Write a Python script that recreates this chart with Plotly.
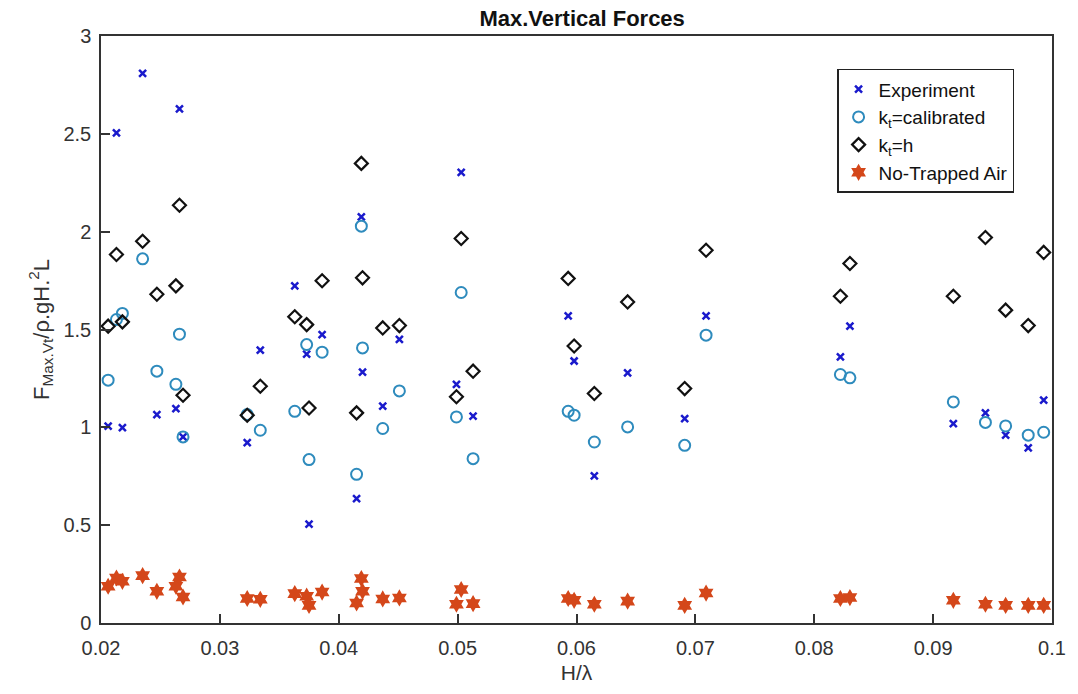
import plotly.graph_objects as go

# H/lambda for each case
h_lambda = [0.0206, 0.0213, 0.0218, 0.0235, 0.0247, 0.0263, 0.0266, 0.0269,
            0.0323, 0.0334, 0.0363, 0.0373, 0.0375, 0.0386, 0.0415, 0.0419, 0.0420,
            0.0437, 0.0451, 0.0499, 0.0503, 0.0513,
            0.0593, 0.0598, 0.0615, 0.0643, 0.0691, 0.0709,
            0.0822, 0.0830, 0.0917, 0.0944, 0.0961, 0.0980, 0.0993]

experiment = [1.006, 2.505, 0.999, 2.809, 1.065, 1.096, 2.628, 0.951,
              0.922, 1.394, 1.723, 1.374, 0.505, 1.474, 0.636, 2.076, 1.282,
              1.108, 1.450, 1.219, 2.303, 1.057,
              1.570, 1.339, 0.752, 1.278, 1.045, 1.570,
              1.360, 1.517, 1.019, 1.074, 0.960, 0.895, 1.139]

kt_calibrated = [1.241, 1.551, 1.582, 1.861, 1.287, 1.220, 1.476, 0.951,
                 1.065, 0.985, 1.082, 1.423, 0.835, 1.384, 0.760, 2.028, 1.406,
                 0.994, 1.186, 1.053, 1.689, 0.840,
                 1.082, 1.062, 0.925, 1.002, 0.908, 1.471,
                 1.270, 1.253, 1.130, 1.025, 1.007, 0.960, 0.975]

kt_h = [1.517, 1.883, 1.539, 1.951, 1.680, 1.723, 2.135, 1.164,
        1.062, 1.210, 1.565, 1.525, 1.099, 1.749, 1.074, 2.349, 1.764,
        1.508, 1.520, 1.156, 1.965, 1.287,
        1.761, 1.416, 1.173, 1.641, 1.198, 1.905,
        1.670, 1.837, 1.670, 1.970, 1.599, 1.520, 1.894]

no_trapped_air = [0.188, 0.230, 0.213, 0.242, 0.162, 0.188, 0.235, 0.133,
                  0.125, 0.121, 0.150, 0.137, 0.090, 0.158, 0.102, 0.227, 0.162,
                  0.123, 0.128, 0.096, 0.171, 0.099,
                  0.125, 0.116, 0.096, 0.112, 0.090, 0.153,
                  0.125, 0.130, 0.116, 0.096, 0.090, 0.090, 0.090]

FONT = "Liberation Sans, Arial, sans-serif"

fig = go.Figure()
fig.add_trace(go.Scatter(
    x=h_lambda, y=experiment, mode="markers", name="Experiment",
    marker=dict(symbol="x-thin", size=7, line=dict(color="#1a1acc", width=2.5), color="#1a1acc")))
fig.add_trace(go.Scatter(
    x=h_lambda, y=kt_calibrated, mode="markers", name="k<sub>t</sub>=calibrated",
    marker=dict(symbol="circle-open", size=11, color="#2e8bbd", line=dict(width=2))))
fig.add_trace(go.Scatter(
    x=h_lambda, y=kt_h, mode="markers", name="k<sub>t</sub>=h",
    marker=dict(symbol="diamond-open", size=10, color="#111111", line=dict(width=2.2))))
fig.add_trace(go.Scatter(
    x=h_lambda, y=no_trapped_air, mode="markers", name="No-Trapped Air",
    marker=dict(symbol="hexagram", size=13, color="#d4471a", line=dict(width=0))))

axis_common = dict(
    showline=True, mirror=True, linecolor="#333333", linewidth=1.5,
    ticks="inside", ticklen=9, tickwidth=1.5, tickcolor="#333333",
    showgrid=False, zeroline=False,
    tickfont=dict(family=FONT, size=20, color="#333333"),
)

fig.update_layout(
    width=1078, height=694,
    margin=dict(l=101, r=18, t=36, b=71),
    paper_bgcolor="white", plot_bgcolor="white",
    font=dict(family=FONT, color="#222222"),
    title=dict(text="<b>Max.Vertical Forces</b>", x=0.54, xanchor="center",
               y=0.974, yanchor="middle", font=dict(family=FONT, size=22, color="#111111")),
    xaxis=dict(range=[0.02, 0.1], dtick=0.01, tick0=0.02, ticklabelstandoff=6,
               title=dict(text="H/λ", font=dict(family=FONT, size=21, color="#333333"), standoff=8),
               **axis_common),
    yaxis=dict(range=[0, 3], dtick=0.5, tick0=0, ticklabelstandoff=4,
               title=dict(text="F<sub>Max.Vt</sub>/ρ.gH.<sup>2</sup>L",
                          font=dict(family=FONT, size=22, color="#333333"), standoff=8),
               **axis_common),
    legend=dict(x=0.774, y=0.944, xanchor="left", yanchor="top",
                bgcolor="white", bordercolor="#222222", borderwidth=1.5,
                font=dict(family=FONT, size=19, color="#111111"),
                itemwidth=30, tracegroupgap=0),
    showlegend=True,
)

fig.write_html("out.html")
